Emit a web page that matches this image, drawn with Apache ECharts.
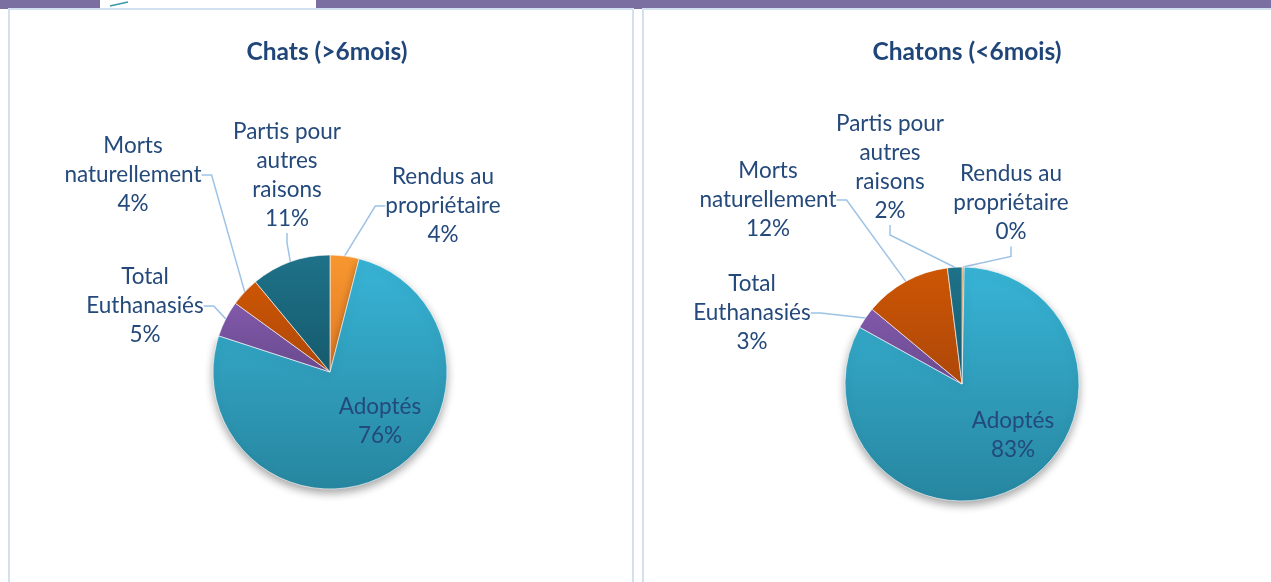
<!DOCTYPE html>
<html>
<head>
<meta charset="utf-8">
<script src="https://cdn.jsdelivr.net/npm/echarts@6/dist/echarts.min.js"></script>
<style>
  html, body { margin: 0; padding: 0; background: #fff; }
  #main { width: 1271px; height: 582px; }
</style>
</head>
<body>
<div id="main"></div>
<script>
// Catégories (ordre horaire à partir de midi)
var categories = ['Rendus au\npropriétaire', 'Adoptés', 'Total\nEuthanasiés', 'Morts\nnaturellement', 'Partis pour\nautres\nraisons'];
// Chats (>6mois)
var chatsValues = [4, 76, 5, 4, 11];
// Chatons (<6mois)
var chatonsValues = [0.3, 83, 3, 12, 2];
var titles = ['Chats (>6mois)', 'Chatons (<6mois)'];

var textColor = '#24497b';
var fontName = 'Lato';

function grad(c1, c2) {
    return new echarts.graphic.LinearGradient(0, 0, 0, 1, [
        { offset: 0, color: c1 },
        { offset: 1, color: c2 }
    ]);
}
var sliceColors = [
    grad('#f8972f', '#e07a26'),
    grad('#38b4d6', '#2786a0'),
    grad('#8159aa', '#6a4a8f'),
    grad('#cd5604', '#ad4709'),
    grad('#1e7289', '#165a6d')
];

// emplacement des étiquettes (façon Excel)
var labelPos = [
    [[443, 206], [380, 421], [145, 306], [133, 175], [287, 175]],
    [[1011, 203], [1013, 435], [752, 313], [768, 200], [890, 167]]
];

function buildData(values) {
    return values.map(function (v, i) {
        var item = {
            name: categories[i],
            value: v,
            itemStyle: { color: sliceColors[i] }
        };
        if (i === 1) {
            item.label = { position: 'inside' };
            item.labelLine = { show: false };
            item.itemStyle.shadowBlur = 8;
            item.itemStyle.shadowOffsetY = 4;
            item.itemStyle.shadowColor = 'rgba(0,0,0,0.35)';
        }
        return item;
    });
}

function pieSeries(values, center) {
    return {
        type: 'pie',
        center: center,
        radius: 117,
        startAngle: 90,
        clockwise: true,
        avoidLabelOverlap: false,
        silent: true,
        itemStyle: {
            borderColor: '#ffffff',
            borderWidth: 0.6
        },
        label: {
            show: true,
            position: 'outside',
            color: textColor,
            fontFamily: fontName,
            fontSize: 22.5,
            lineHeight: 29,
            align: 'center',
            formatter: function (p) {
                return p.name + '\n' + Math.round(p.percent) + '%';
            }
        },
        labelLine: {
            show: true,
            length: 10,
            length2: 10,
            lineStyle: { color: '#9dc3e6', width: 1.5 }
        },
        labelLayout: function (params) {
            var pos = labelPos[params.seriesIndex][params.dataIndex];
            return {
                x: pos[0],
                y: pos[1],
                align: 'center',
                verticalAlign: 'middle'
            };
        },
        data: buildData(values)
    };
}

var chart = echarts.init(document.getElementById('main'));
var option = {
    backgroundColor: '#ffffff',
    animation: false,
    title: [
        {
            text: titles[0], left: 322, top: 47, textAlign: 'center', textVerticalAlign: 'middle',
            textStyle: { color: '#1f4579', fontFamily: fontName, fontWeight: 'bold', fontSize: 24.5 }
        },
        {
            text: titles[1], left: 962, top: 47, textAlign: 'center', textVerticalAlign: 'middle',
            textStyle: { color: '#1f4579', fontFamily: fontName, fontWeight: 'bold', fontSize: 24.5 }
        }
    ],
    graphic: [
        { type: 'rect', z: -10, shape: { x: 0, y: 0, width: 1271, height: 9 }, style: { fill: '#7a6fa0' } },
        { type: 'rect', z: -9, shape: { x: 100, y: 0, width: 216, height: 9 }, style: { fill: '#ffffff' } },
        { type: 'rect', z: -8, shape: { x: 9, y: 9, width: 624, height: 620 }, style: { fill: '#ffffff', stroke: '#d3e0f0', lineWidth: 2 } },
        { type: 'rect', z: -8, shape: { x: 643, y: 9, width: 640, height: 620 }, style: { fill: '#ffffff', stroke: '#d3e0f0', lineWidth: 2 } },
        { type: 'line', z: -7, shape: { x1: 110, y1: 6, x2: 128, y2: 2 }, style: { stroke: '#3a9aa8', lineWidth: 1.5 } }
    ],
    series: [
        pieSeries(chatsValues, [330, 372]),
        pieSeries(chatonsValues, [962, 384])
    ]
};
chart.setOption(option);
</script>
</body>
</html>
